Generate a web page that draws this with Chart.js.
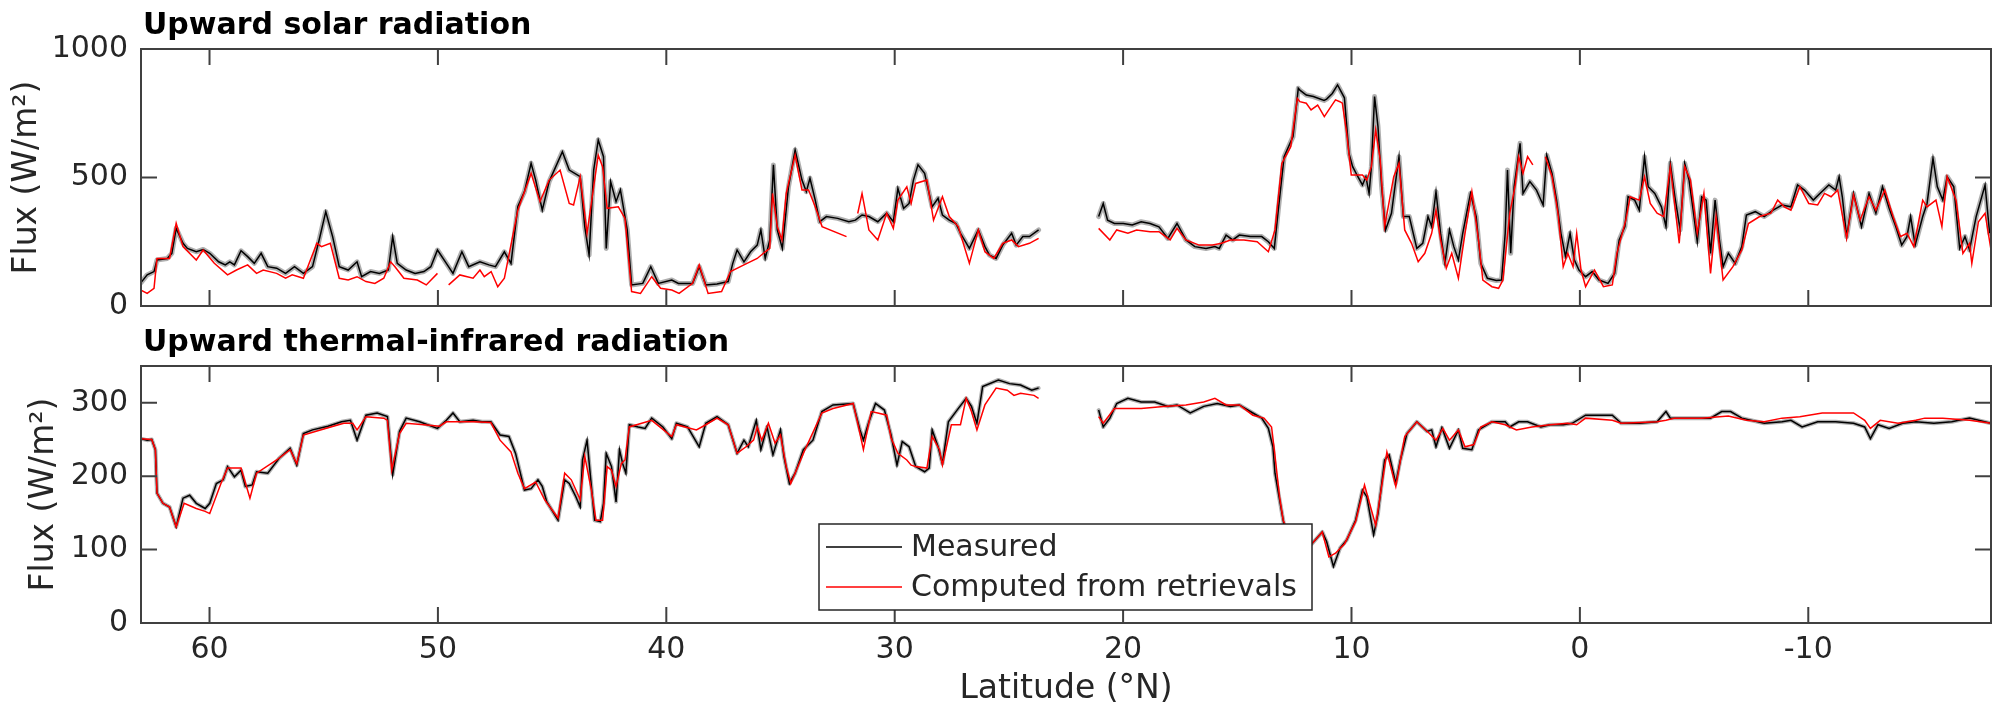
<!DOCTYPE html>
<html>
<head>
<meta charset="utf-8">
<title>Upward radiation</title>
<script src="https://cdn.jsdelivr.net/npm/chart.js@4.4.0/dist/chart.umd.min.js"></script>
<style>
	body { margin: 0; background: #ffffff; }
	#wrap { position: relative; width: 2001px; height: 709px; overflow: hidden; }
	canvas { position: absolute; left: 0; }
	#solarChart { top: 0; }
	#irChart { top: 310px; }
</style>
</head>
<body>
<div id="wrap">
	<canvas id="solarChart" width="2001" height="350"></canvas>
	<canvas id="irChart" width="2001" height="399"></canvas>
</div>
<script>
// tick positions / labels
const latTicks = [60, 50, 40, 30, 20, 10, 0, -10];
const solarTicks = [0, 500, 1000];
const irTicks = [0, 100, 200, 300];

// Upward solar radiation, measured (W/m2)
const solarMeasLat = [
	63.0, 62.73, 62.43, 62.3, 61.85, 61.65, 61.46, 61.16, 60.97, 60.58,
	60.28, 59.99, 59.6, 59.31, 59.11, 58.91, 58.62, 58.33, 58.04, 57.74,
	57.45, 57.06, 56.67, 56.28, 55.89, 55.49, 55.2, 54.91, 54.61, 54.32,
	53.93, 53.54, 53.34, 52.95, 52.56, 52.17, 51.98, 51.78, 51.39, 51.0,
	50.61, 50.31, 50.02, 49.63, 49.34, 48.95, 48.65, 48.16, 47.77, 47.48,
	47.09, 46.8, 46.5, 46.21, 45.92, 45.72, 45.43, 45.13, 44.55, 44.25,
	43.77, 43.57, 43.38, 43.18, 42.98, 42.75, 42.63, 42.44, 42.2, 42.01,
	41.71, 41.52, 41.03, 40.68, 40.35, 39.76, 39.47, 38.85, 38.56, 38.27,
	37.78, 37.29, 37.09, 36.9, 36.6, 36.31, 36.02, 35.86, 35.67, 35.47,
	35.31, 35.14, 34.92, 34.65, 34.36, 34.06, 33.87, 33.71, 33.48, 33.28,
	32.99, 32.5, 32.01, 31.72, 31.43, 31.13, 30.74, 30.35, 30.06, 29.86,
	29.61, 29.37, 29.18, 28.98, 28.69, 28.36, 28.1, 27.91, 27.61, 27.32,
	27.12, 26.73, 26.34, 26.05, 25.85, 25.56, 25.27, 24.88, 24.68, 24.39,
	24.1, 23.7, 22.4, 21.07, 20.87, 20.68, 20.38, 19.99, 19.6, 19.21,
	18.82, 18.43, 18.04, 17.64, 17.25, 16.86, 16.37, 15.98, 15.79, 15.49,
	15.2, 14.91, 14.42, 13.93, 13.64, 13.38, 13.19, 12.95, 12.56, 12.33,
	12.26, 11.98, 11.67, 11.2, 11.09, 10.84, 10.61, 10.31, 10.11, 9.95,
	9.72, 9.52, 9.37, 9.23, 9.13, 8.99, 8.84, 8.68, 8.51, 8.25,
	8.06, 7.92, 7.73, 7.47, 7.14, 6.88, 6.65, 6.49, 6.3, 6.1,
	5.91, 5.71, 5.52, 5.32, 5.13, 4.79, 4.54, 4.34, 4.05, 3.66,
	3.43, 3.27, 3.17, 3.03, 2.88, 2.62, 2.49, 2.19, 1.9, 1.61,
	1.45, 1.22, 1.02, 0.83, 0.63, 0.43, 0.24, 0.04, -0.25, -0.54,
	-0.84, -1.23, -1.52, -1.72, -1.97, -2.11, -2.4, -2.6, -2.83, -2.99,
	-3.28, -3.57, -3.77, -3.96, -4.16, -4.39, -4.59, -4.78, -4.94, -5.14,
	-5.33, -5.53, -5.72, -5.92, -6.11, -6.27, -6.5, -6.8, -7.09, -7.29,
	-7.68, -8.07, -8.46, -8.85, -9.24, -9.53, -9.83, -10.22, -10.51, -10.9,
	-11.2, -11.35, -11.49, -11.68, -11.98, -12.33, -12.66, -12.96, -13.25, -13.54,
	-13.83, -14.09, -14.32, -14.48, -14.68, -15.01, -15.2, -15.46, -15.65, -15.89,
	-16.08, -16.37, -16.63, -16.86, -17.06, -17.35, -17.74, -17.94
];
const solarMeas = [
	91, 121, 134, 179, 185, 205, 302, 244, 224, 211,
	220, 205, 172, 160, 172, 160, 215, 192, 166, 205,
	153, 147, 127, 153, 127, 153, 257, 367, 270, 153,
	140, 172, 114, 134, 127, 140, 270, 166, 140, 127,
	134, 153, 218, 166, 127, 211, 153, 172, 160, 153,
	211, 166, 387, 445, 555, 490, 373, 484, 600, 529,
	503, 309, 198, 529, 646, 581, 224, 484, 406, 452,
	296, 82, 88, 153, 88, 101, 88, 88, 153, 82,
	86, 95, 166, 218, 172, 211, 237, 296, 185, 257,
	549, 296, 224, 464, 607, 490, 445, 497, 412, 328,
	348, 341, 328, 334, 354, 348, 328, 361, 328, 458,
	380, 399, 490, 549, 516, 386, 419, 354, 334, 321,
	283, 224, 296, 231, 198, 185, 237, 283, 237, 270,
	270, 296, null, 348, 399, 334, 321, 321, 315, 328,
	321, 308, 263, 321, 257, 231, 224, 231, 224, 276,
	257, 276, 270, 270, 250, 224, 386, 581, 659, 847,
	840, 821, 815, 800, 805, 827, 860, 810, 594, 542,
	503, 471, 503, 438, 542, 815, 698, 464, 296, 361,
	490, 581, 348, 348, 224, 244, 348, 309, 445, 283,
	166, 296, 231, 179, 283, 438, 348, 166, 108, 99,
	101, 283, 529, 205, 464, 633, 438, 484, 451, 393,
	587, 516, 412, 283, 192, 283, 179, 140, 114, 134,
	101, 88, 127, 257, 309, 425, 412, 373, 581, 464,
	438, 386, 309, 555, 425, 296, 555, 490, 386, 250,
	425, 412, 205, 412, 257, 153, 205, 166, 231, 354,
	367, 348, 373, 393, 386, 471, 451, 412, 438, 471,
	451, 503, 425, 270, 438, 309, 438, 361, 464, 380,
	309, 237, 270, 348, 237, 348, 399, 575, 464, 412,
	503, 464, 224, 270, 218, 348, 471, 283
];

// Upward solar radiation, computed from retrievals
const solarCompLat = [
	63.0, 62.73, 62.43, 62.3, 61.75, 61.46, 61.16, 60.58, 60.28, 59.79,
	59.21, 58.82, 58.33, 57.94, 57.65, 57.06, 56.67, 56.38, 55.89, 55.3,
	55.1, 54.71, 54.32, 53.93, 53.54, 53.15, 52.76, 52.37, 52.07, 51.88,
	51.49, 50.9, 50.51, 50.02, 49.8, 49.53, 49.04, 48.46, 48.16, 47.97,
	47.67, 47.38, 47.09, 46.5, 45.92, 45.53, 45.13, 44.65, 44.25, 44.06,
	43.77, 43.47, 43.18, 42.98, 42.79, 42.59, 42.1, 41.81, 41.52, 41.13,
	40.64, 40.25, 39.76, 39.44, 38.85, 38.56, 38.17, 37.58, 37.19, 36.6,
	36.02, 35.67, 35.47, 35.35, 35.14, 34.94, 34.75, 34.36, 34.06, 33.77,
	33.48, 33.18, 32.11, 31.85, 31.62, 31.43, 31.13, 30.74, 30.35, 30.06,
	29.86, 29.47, 29.28, 29.08, 28.59, 28.3, 27.91, 27.61, 27.22, 26.73,
	26.34, 26.05, 25.66, 25.27, 24.88, 24.58, 24.1, 23.7, 22.4, 21.07,
	20.58, 20.28, 19.79, 19.41, 18.82, 18.43, 17.94, 17.64, 17.25, 16.67,
	16.08, 15.69, 15.3, 14.71, 14.13, 13.64, 13.35, 13.05, 12.66, 12.37,
	12.26, 11.98, 11.77, 11.48, 11.19, 10.9, 10.7, 10.51, 10.4, 10.21,
	10.01, 9.52, 9.33, 9.13, 8.94, 8.74, 8.55, 8.15, 7.92, 7.67,
	7.37, 7.08, 6.79, 6.49, 6.3, 6.1, 5.85, 5.61, 5.32, 5.03,
	4.73, 4.44, 4.25, 3.85, 3.56, 3.37, 3.07, 2.84, 2.68, 2.49,
	2.29, 2.06, 1.8, 1.51, 1.22, 0.96, 0.73, 0.53, 0.3, 0.14,
	-0.05, -0.25, -0.64, -1.03, -1.42, -1.62, -2.01, -2.2, -2.6, -2.83,
	-3.08, -3.38, -3.67, -3.96, -4.35, -4.59, -4.84, -5.14, -5.43, -5.72,
	-5.96, -6.27, -6.7, -7.09, -7.38, -7.87, -8.36, -8.66, -8.95, -9.24,
	-9.63, -10.02, -10.41, -10.71, -11.0, -11.29, -11.68, -11.98, -12.27, -12.66,
	-12.96, -13.35, -13.74, -14.03, -14.32, -14.62, -15.01, -15.2, -15.59, -15.85,
	-16.08, -16.47, -16.77, -17.06, -17.16, -17.45, -17.74, -18.0
];
const solarComp = [
	62, 49, 69, 185, 185, 322, 231, 179, 218, 166,
	121, 140, 160, 127, 140, 127, 108, 121, 108, 244,
	231, 244, 108, 101, 114, 95, 88, 108, 172, 153,
	108, 101, 82, 127, null, 82, 121, 108, 140, 114,
	134, 75, 108, 373, 516, 406, 490, 529, 399, 393,
	503, 283, 464, 587, 542, 380, 386, 341, 56, 49,
	114, 69, 62, 49, 88, 160, 49, 56, 134, 160,
	185, 211, 224, 438, 309, 257, 438, 587, 451, 451,
	386, 309, 270, null, 360, 438, 296, 257, 361, 302,
	412, 464, 399, 477, 490, 334, 425, 348, 309, 166,
	296, 211, 185, 244, 257, 231, 244, 263, null, 302,
	257, 296, 283, 296, 289, 289, 257, 302, 257, 237,
	237, 244, 257, 257, 250, 211, 296, 555, 620, 808,
	795, 789, 763, 782, 737, 776, 802, 795, 789, 672,
	510, 510, 490, 542, 685, 568, 309, 503, 555, 296,
	244, 172, 205, 283, 373, 257, 147, 205, 108, 283,
	445, 257, 101, 75, 69, 101, 361, 464, 581, 516,
	581, 549, null, 581, 503, 361, 153, 205, 153, 283,
	140, 75, 140, 75, 82, 205, 334, 425, 412, 503,
	399, 361, 348, 542, 244, 542, 490, 283, 438, 127,
	348, 101, 153, 218, 321, 348, 361, 412, 386, 373,
	464, 399, 393, 438, 425, 451, 263, 432, 334, 425,
	373, 451, 341, 270, 283, 231, 412, 386, 412, 309,
	503, 412, 205, 244, 166, 328, 361, 218
];

// Upward thermal-infrared radiation, measured
const irMeasLat = [
	63.0, 62.73, 62.53, 62.37, 62.3, 62.04, 61.75, 61.46, 61.16, 60.87,
	60.58, 60.19, 59.99, 59.7, 59.4, 59.21, 58.91, 58.62, 58.43, 58.13,
	57.94, 57.45, 56.96, 56.47, 56.18, 55.89, 55.49, 54.81, 54.22, 53.83,
	53.54, 53.15, 52.66, 52.21, 51.98, 51.68, 51.39, 50.8, 50.02, 49.63,
	49.34, 49.04, 48.46, 48.07, 47.68, 47.28, 46.89, 46.6, 46.21, 45.92,
	45.62, 45.43, 45.23, 44.74, 44.45, 44.25, 43.96, 43.77, 43.67, 43.47,
	43.28, 43.14, 42.89, 42.75, 42.63, 42.4, 42.2, 42.05, 41.91, 41.77,
	41.62, 41.23, 40.93, 40.64, 40.15, 39.76, 39.56, 39.07, 38.56, 38.27,
	37.78, 37.29, 36.9, 36.6, 36.41, 36.06, 35.86, 35.59, 35.33, 35.0,
	34.85, 34.61, 34.36, 34.0, 33.58, 33.19, 32.7, 31.82, 31.52, 31.37,
	31.13, 30.84, 30.45, 30.16, 29.9, 29.67, 29.37, 29.08, 28.69, 28.49,
	28.36, 28.1, 27.91, 27.65, 27.22, 26.87, 26.64, 26.4, 26.15, 25.46,
	24.97, 24.49, 24.0, 23.7, 22.4, 21.07, 20.87, 20.58, 20.28, 19.79,
	19.21, 18.62, 18.04, 17.64, 17.06, 16.47, 15.88, 15.3, 14.91, 14.32,
	13.93, 13.64, 13.44, 13.35, 13.15, 12.95, 12.6, 12.2, 11.73, 11.28,
	11.09, 10.79, 10.5, 10.21, 9.82, 9.52, 9.33, 9.03, 8.84, 8.55,
	8.35, 8.06, 7.86, 7.57, 7.14, 6.69, 6.49, 6.3, 6.04, 5.71,
	5.32, 5.13, 4.73, 4.44, 3.85, 3.27, 3.07, 2.68, 2.29, 1.71,
	1.31, 0.73, 0.34, -0.25, -1.42, -1.81, -2.6, -3.38, -3.77, -3.96,
	-4.75, -5.72, -6.21, -6.6, -7.09, -8.07, -8.85, -9.24, -9.73, -10.41,
	-11.2, -11.98, -12.47, -12.72, -13.05, -13.54, -14.13, -14.71, -15.5, -16.28,
	-17.06, -18.0
];
const irMeas = [
	251, 249, 250, 236, 177, 163, 158, 131, 170, 174,
	163, 156, 163, 190, 195, 213, 199, 208, 186, 188,
	206, 204, 224, 238, 215, 258, 263, 268, 274, 276,
	249, 283, 286, 281, 202, 261, 279, 274, 265, 276,
	286, 274, 276, 274, 274, 256, 254, 231, 181, 183,
	195, 186, 165, 140, 195, 190, 172, 158, 222, 249,
	186, 140, 138, 163, 231, 213, 165, 236, 217, 204,
	270, 267, 265, 279, 267, 251, 272, 267, 240, 272,
	281, 270, 231, 249, 240, 276, 236, 267, 229, 263,
	227, 190, 204, 236, 249, 288, 297, 299, 263, 249,
	274, 299, 290, 256, 215, 247, 240, 213, 206, 211,
	263, 240, 217, 274, 292, 306, 295, 272, 322, 331,
	326, 324, 317, 320, null, 290, 267, 279, 299, 306,
	301, 301, 295, 297, 286, 295, 299, 295, 297, 286,
	279, 265, 240, 204, 168, 133, 110, 100, 108, 124,
	111, 77, 102, 113, 140, 181, 172, 120, 149, 222,
	229, 190, 222, 258, 274, 261, 263, 240, 266, 238,
	263, 238, 236, 263, 274, 274, 267, 274, 274, 267,
	270, 270, 272, 283, 283, 272, 272, 274, 288, 279,
	279, 279, 288, 288, 279, 272, 274, 276, 267, 274,
	274, 272, 267, 251, 270, 265, 272, 274, 272, 274,
	279, 272
];

// Upward thermal-infrared radiation, computed from retrievals
const irCompLat = [
	63.0, 62.53, 62.37, 62.3, 62.04, 61.75, 61.46, 61.11, 60.58, 60.19,
	59.99, 59.5, 59.21, 58.62, 58.23, 57.94, 57.06, 56.47, 56.18, 55.89,
	54.81, 54.12, 53.73, 53.54, 53.15, 52.37, 52.21, 52.02, 51.68, 51.39,
	50.61, 49.93, 49.63, 49.04, 48.46, 47.68, 47.28, 46.8, 46.5, 46.21,
	45.72, 45.33, 44.74, 44.45, 44.16, 43.77, 43.57, 43.28, 43.08, 42.79,
	42.59, 42.4, 42.2, 41.97, 41.81, 41.62, 40.64, 39.76, 39.56, 38.68,
	38.27, 37.78, 37.29, 36.9, 36.51, 36.18, 36.02, 35.82, 35.53, 35.24,
	35.0, 34.75, 34.55, 33.97, 33.19, 32.7, 31.82, 31.62, 31.37, 31.03,
	30.74, 30.35, 30.16, 29.86, 29.47, 29.28, 29.08, 28.59, 28.36, 28.04,
	27.91, 27.52, 27.12, 26.87, 26.64, 26.4, 26.05, 25.56, 25.07, 24.78,
	24.49, 23.9, 23.7, 22.4, 21.07, 20.87, 20.38, 19.99, 19.21, 18.23,
	17.25, 16.47, 15.98, 15.49, 14.91, 14.32, 13.83, 13.5, 13.38, 13.15,
	12.99, 12.6, 12.2, 11.73, 11.28, 10.99, 10.7, 10.3, 9.82, 9.43,
	8.94, 8.45, 8.06, 7.67, 7.14, 6.59, 6.3, 6.0, 5.71, 5.32,
	5.03, 4.64, 4.34, 3.85, 3.27, 2.78, 2.1, 1.31, 0.53, 0.14,
	-0.25, -1.42, -1.81, -2.6, -3.38, -3.77, -4.16, -5.33, -6.11, -6.5,
	-7.29, -8.07, -8.85, -9.63, -10.61, -11.98, -12.47, -12.72, -13.15, -13.93,
	-14.71, -15.1, -15.89, -17.06, -18.0
];
const irComp = [
	251, 250, 236, 177, 163, 158, 131, 163, 156, 152,
	149, 190, 211, 211, 170, 204, 222, 236, 217, 256,
	266, 272, 272, 263, 281, 279, 276, 208, 258, 272,
	270, 268, 274, 274, 274, 273, 249, 233, 204, 183,
	192, 168, 143, 204, 195, 168, 227, 181, 140, 140,
	213, 208, 186, 217, 222, 267, 276, 254, 270, 263,
	270, 279, 270, 231, 240, 249, 267, 249, 272, 245,
	256, 213, 190, 233, 286, 292, 299, 272, 236, 288,
	286, 283, 252, 231, 222, 215, 213, 211, 254, 236,
	215, 270, 270, 306, 288, 263, 297, 320, 317, 310,
	313, 310, 306, null, 281, 272, 292, 292, 292, 295,
	297, 301, 306, 297, 297, 283, 279, 267, 236, 172,
	140, 110, 100, 108, 124, 90, 95, 108, 138, 188,
	133, 233, 186, 254, 274, 258, 249, 265, 249, 263,
	240, 243, 267, 274, 270, 263, 267, 270, 272, 270,
	279, 276, 272, 273, 274, 276, 279, 279, 281, 282,
	276, 274, 279, 281, 286, 286, 276, 265, 276, 272,
	276, 279, 279, 276, 272
];

document.addEventListener("DOMContentLoaded", function () {
	Chart.defaults.font.family = '"DejaVu Sans", sans-serif';
	Chart.defaults.color = "#262626";

	const axisColor = "#404040";
	const tickLen = 16;

	function toPoints(lats, vals) {
		return lats.map((lat, i) => ({ x: lat, y: vals[i] }));
	}

	// box, inward ticks on all four sides, and the bold panel title
	const panelFrame = {
		id: "panelFrame",
		afterDatasetsDraw(chart, args, opts) {
			const { ctx, chartArea: area, scales } = chart;
			ctx.save();
			ctx.strokeStyle = axisColor;
			ctx.lineWidth = 2;
			ctx.beginPath();
			latTicks.forEach(v => {
				const px = scales.x.getPixelForValue(v);
				ctx.moveTo(px, area.bottom);
				ctx.lineTo(px, area.bottom - tickLen);
				ctx.moveTo(px, area.top);
				ctx.lineTo(px, area.top + tickLen);
			});
			opts.yTicks.forEach(v => {
				const py = scales.y.getPixelForValue(v);
				ctx.moveTo(area.left, py);
				ctx.lineTo(area.left + tickLen, py);
				ctx.moveTo(area.right, py);
				ctx.lineTo(area.right - tickLen, py);
			});
			ctx.stroke();
			ctx.strokeRect(area.left, area.top, area.right - area.left, area.bottom - area.top);

			ctx.fillStyle = "#000000";
			ctx.font = 'bold 30px "DejaVu Sans"';
			ctx.textAlign = "left";
			ctx.textBaseline = "alphabetic";
			ctx.fillText(opts.title, area.left + 2, area.top - 15);
			ctx.restore();
		}
	};

	// matlab style legend box inside the lower panel
	const boxLegend = {
		id: "boxLegend",
		afterDatasetsDraw(chart, args, opts) {
			if (!opts.show) return;
			const ctx = chart.ctx;
			const items = chart.data.datasets.filter(d => d.inLegend);
			ctx.save();
			ctx.fillStyle = "#ffffff";
			ctx.fillRect(opts.left, opts.top, opts.width, opts.height);
			ctx.strokeStyle = "#262626";
			ctx.lineWidth = 1.5;
			ctx.strokeRect(opts.left, opts.top, opts.width, opts.height);
			ctx.font = '30px "DejaVu Sans"';
			ctx.textAlign = "left";
			ctx.textBaseline = "middle";
			items.forEach((d, i) => {
				const y = opts.top + opts.rowTop + i * opts.rowGap;
				ctx.strokeStyle = d.borderColor;
				ctx.lineWidth = 1.5;
				ctx.beginPath();
				ctx.moveTo(opts.left + 7, y);
				ctx.lineTo(opts.left + 83, y);
				ctx.stroke();
				ctx.fillStyle = "#262626";
				ctx.fillText(d.label, opts.left + 92, y + 1);
			});
			ctx.restore();
		}
	};

	function makePanel(canvasId, p) {
		const ctx = document.getElementById(canvasId).getContext("2d");
		const meas = toPoints(p.measLat, p.meas);
		return new Chart(ctx, {
			type: "line",
			data: {
				datasets: [
					{ label: "Measured", inLegend: true, data: meas, borderColor: "#000000", borderWidth: 1.5, order: 1 },
					{ label: "Computed from retrievals", inLegend: true, data: toPoints(p.compLat, p.comp), borderColor: "#ff0000", borderWidth: 1.5, order: 0 },
					{ label: "uncertainty", data: meas, borderColor: "rgba(110,110,110,0.55)", borderWidth: p.bandWidth, borderJoinStyle: "round", borderCapStyle: "round", order: 2 }
				]
			},
			options: {
				responsive: false,
				animation: false,
				devicePixelRatio: 1,
				elements: { point: { radius: 0 }, line: { tension: 0 } },
				layout: { padding: { left: 0, right: 10, top: p.padTop, bottom: 0 } },
				scales: {
					x: {
						type: "linear",
						reverse: true,
						min: -18,
						max: 63,
						grid: { display: false, drawTicks: false },
						border: { display: false },
						afterBuildTicks: scale => { scale.ticks = latTicks.map(v => ({ value: v })); },
						afterFit: scale => { scale.height = p.xHeight; },
						ticks: { display: p.showX, padding: 9, color: "#262626", font: { size: 30 }, callback: v => String(v) },
						title: {
							display: p.showX,
							text: "Latitude (°N)",
							color: "#262626",
							font: { size: 33 },
							padding: { top: 0, bottom: 0 }
						}
					},
					y: {
						min: 0,
						max: p.yMax,
						grid: { display: false, drawTicks: false },
						border: { display: false },
						afterBuildTicks: scale => { scale.ticks = p.yTicks.map(v => ({ value: v })); },
						afterFit: scale => { scale.width = 141; },
						ticks: { padding: 13, color: "#262626", font: { size: 30 }, callback: v => String(v) },
						title: {
							display: true,
							text: "Flux (W/m²)",
							color: "#262626",
							font: { size: 33 },
							padding: { top: p.yTitlePad, bottom: 0 }
						}
					}
				},
				plugins: {
					legend: { display: false },
					tooltip: { enabled: false },
					panelFrame: { title: p.title, yTicks: p.yTicks },
					boxLegend: { show: p.legend, left: 819, top: 214, width: 493, height: 86, rowTop: 23, rowGap: 40 }
				}
			},
			plugins: [panelFrame, boxLegend]
		});
	}

	makePanel("solarChart", {
		title: "Upward solar radiation",
		measLat: solarMeasLat, meas: solarMeas,
		compLat: solarCompLat, comp: solarComp,
		yMax: 1000, yTicks: solarTicks,
		padTop: 49, xHeight: 44, showX: false,
		yTitlePad: 8, bandWidth: 5, legend: false
	});

	makePanel("irChart", {
		title: "Upward thermal-infrared radiation",
		measLat: irMeasLat, meas: irMeas,
		compLat: irCompLat, comp: irComp,
		yMax: 350, yTicks: irTicks,
		padTop: 56, xHeight: 86, showX: true,
		yTitlePad: 25, bandWidth: 4, legend: true
	});
});
</script>
</body>
</html>
